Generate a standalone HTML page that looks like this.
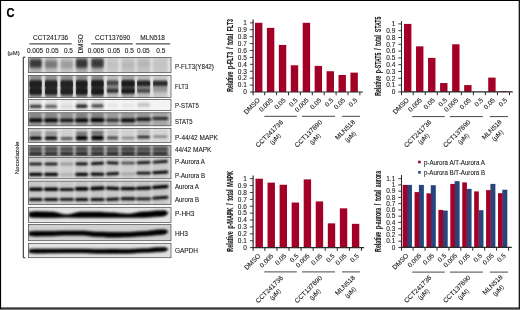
<!DOCTYPE html>
<html lang="en"><head><meta charset="utf-8"><title>Figure C</title>
<style>html,body{margin:0;padding:0;background:#fff;}body{width:520px;height:310px;overflow:hidden;}svg{display:block;}</style>
</head><body>
<svg width="520" height="310" viewBox="0 0 520 310" font-family="'Liberation Sans', sans-serif">
<defs>
<filter id="b05" x="-10%" y="-50%" width="120%" height="200%"><feGaussianBlur stdDeviation="0.5"/></filter>
<filter id="b07" x="-10%" y="-50%" width="120%" height="200%"><feGaussianBlur stdDeviation="0.7"/></filter>
<filter id="b08" x="-10%" y="-50%" width="120%" height="200%"><feGaussianBlur stdDeviation="0.8"/></filter>
<filter id="b09" x="-10%" y="-50%" width="120%" height="200%"><feGaussianBlur stdDeviation="0.9"/></filter>
<filter id="b11" x="-10%" y="-50%" width="120%" height="200%"><feGaussianBlur stdDeviation="1.1"/></filter>
<filter id="b13" x="-10%" y="-50%" width="120%" height="200%"><feGaussianBlur stdDeviation="1.3"/></filter>
<filter id="b15" x="-10%" y="-50%" width="120%" height="200%"><feGaussianBlur stdDeviation="1.5"/></filter>
<filter id="ba" x="-10%" y="-60%" width="120%" height="220%"><feGaussianBlur stdDeviation="0.8 1.7"/></filter>
<filter id="bb" x="-10%" y="-60%" width="120%" height="220%"><feGaussianBlur stdDeviation="0.65 1.2"/></filter>
</defs>
<rect x="0" y="0" width="520" height="310" fill="#fff"/>
<text x="6.5" y="17.1" font-size="12.2" fill="#000" font-weight="bold" textLength="8.0" lengthAdjust="spacingAndGlyphs" stroke="#000" stroke-width="0.25" >C</text>
<text x="50.6" y="39.6" font-size="6.5" fill="#1c1c1c" text-anchor="middle" stroke="#1c1c1c" stroke-width="0.1" >CCT241736</text>
<text x="112.6" y="39.6" font-size="6.5" fill="#1c1c1c" text-anchor="middle" stroke="#1c1c1c" stroke-width="0.1" >CCT137690</text>
<text x="152.6" y="39.6" font-size="6.5" fill="#1c1c1c" text-anchor="middle" stroke="#1c1c1c" stroke-width="0.1" >MLN518</text>
<line x1="29.4" y1="43.9" x2="71.6" y2="43.9" stroke="#505050" stroke-width="1.2"/>
<line x1="91.0" y1="43.9" x2="132.8" y2="43.9" stroke="#505050" stroke-width="1.2"/>
<line x1="135.8" y1="43.9" x2="170.2" y2="43.9" stroke="#505050" stroke-width="1.2"/>
<text x="35.1" y="53.0" font-size="6.5" fill="#1c1c1c" text-anchor="middle" stroke="#1c1c1c" stroke-width="0.1" >0.005</text>
<text x="52.2" y="53.0" font-size="6.5" fill="#1c1c1c" text-anchor="middle" stroke="#1c1c1c" stroke-width="0.1" >0.05</text>
<text x="68.4" y="53.0" font-size="6.5" fill="#1c1c1c" text-anchor="middle" stroke="#1c1c1c" stroke-width="0.1" >0.5</text>
<text x="95.9" y="53.0" font-size="6.5" fill="#1c1c1c" text-anchor="middle" stroke="#1c1c1c" stroke-width="0.1" >0.005</text>
<text x="113.9" y="53.0" font-size="6.5" fill="#1c1c1c" text-anchor="middle" stroke="#1c1c1c" stroke-width="0.1" >0.05</text>
<text x="129.3" y="53.0" font-size="6.5" fill="#1c1c1c" text-anchor="middle" stroke="#1c1c1c" stroke-width="0.1" >0.5</text>
<text x="143.3" y="53.0" font-size="6.5" fill="#1c1c1c" text-anchor="middle" stroke="#1c1c1c" stroke-width="0.1" >0.05</text>
<text x="160.8" y="53.0" font-size="6.5" fill="#1c1c1c" text-anchor="middle" stroke="#1c1c1c" stroke-width="0.1" >0.5</text>
<text x="83.4" y="53.6" font-size="6.5" fill="#1c1c1c" transform="rotate(-90 83.4 53.6)" stroke="#1c1c1c" stroke-width="0.1" >DMSO</text>
<text x="7.4" y="54.9" font-size="6.2" fill="#1c1c1c" textLength="12.3" lengthAdjust="spacingAndGlyphs" stroke="#1c1c1c" stroke-width="0.1" >(µM)</text>
<text x="19.2" y="174.2" font-size="6.2" fill="#1c1c1c" transform="rotate(-90 19.2 174.2)" stroke="#1c1c1c" stroke-width="0.1" >Nocodazole</text>
<path d="M25.4 57.2 H23.3 V257.8 H25.4" fill="none" stroke="#222" stroke-width="1"/>
<clipPath id="c1"><rect x="28.4" y="57.4" width="142.6" height="15.3"/></clipPath>
<rect x="28.4" y="57.4" width="142.6" height="15.3" fill="#e0e0e0"/>
<g clip-path="url(#c1)">
<g filter="url(#b08)">
<rect x="29.4" y="54.4" width="12.4" height="21.3" fill="#b0b0b0"/>
<rect x="44.9" y="54.4" width="12.4" height="21.3" fill="#bcbcbc"/>
<rect x="60.5" y="54.4" width="12.5" height="21.3" fill="#c4c4c4"/>
<rect x="75.9" y="54.4" width="11.6" height="21.3" fill="#acacac"/>
<rect x="91.3" y="54.4" width="12.4" height="21.3" fill="#b0b0b0"/>
<rect x="106.8" y="54.4" width="11.6" height="21.3" fill="#c8c8c8"/>
<rect x="121.5" y="54.4" width="13.2" height="21.3" fill="#c4c4c4"/>
<rect x="137.0" y="54.4" width="13.2" height="21.3" fill="#c2c2c2"/>
<rect x="153.0" y="54.4" width="14.5" height="21.3" fill="#c8c8c8"/>
</g>
<g filter="url(#ba)">
<rect x="29.4" y="59.15" width="12.4" height="8.50" rx="1.60" fill="#000" fill-opacity="0.68"/>
<rect x="44.9" y="60.45" width="12.4" height="7.50" rx="1.60" fill="#000" fill-opacity="0.36"/>
<rect x="60.5" y="60.85" width="12.5" height="7.50" rx="1.60" fill="#000" fill-opacity="0.2"/>
<rect x="75.9" y="58.90" width="11.6" height="9.00" rx="1.60" fill="#000" fill-opacity="0.68"/>
<rect x="91.3" y="58.70" width="12.4" height="9.00" rx="1.60" fill="#000" fill-opacity="0.68"/>
<rect x="106.8" y="62.50" width="11.6" height="5.00" rx="1.60" fill="#000" fill-opacity="0.04"/>
<rect x="121.5" y="62.50" width="13.2" height="5.00" rx="1.60" fill="#000" fill-opacity="0.07"/>
<rect x="137.0" y="61.50" width="13.2" height="5.00" rx="1.60" fill="#000" fill-opacity="0.07"/>
<rect x="153.0" y="62.50" width="14.5" height="5.00" rx="1.60" fill="#000" fill-opacity="0.03"/>
</g>
</g>
<rect x="28.4" y="57.4" width="142.6" height="15.3" fill="none" stroke="#484848" stroke-width="0.7"/>
<clipPath id="c2"><rect x="28.4" y="75.5" width="142.6" height="21.9"/></clipPath>
<rect x="28.4" y="75.5" width="142.6" height="21.9" fill="#eaeaea"/>
<g clip-path="url(#c2)">
<g filter="url(#b08)">
<rect x="29.4" y="72.5" width="12.4" height="27.9" fill="#8e8e8e"/>
<rect x="44.9" y="72.5" width="12.4" height="27.9" fill="#929292"/>
<rect x="60.5" y="72.5" width="12.5" height="27.9" fill="#929292"/>
<rect x="75.9" y="72.5" width="11.6" height="27.9" fill="#8c8c8c"/>
<rect x="91.3" y="72.5" width="12.4" height="27.9" fill="#8c8c8c"/>
<rect x="106.8" y="72.5" width="11.6" height="27.9" fill="#b8b8b8"/>
<rect x="121.5" y="72.5" width="13.2" height="27.9" fill="#a4a4a4"/>
<rect x="137.0" y="72.5" width="13.2" height="27.9" fill="#bababa"/>
<rect x="153.0" y="72.5" width="14.5" height="27.9" fill="#c8c8c8"/>
</g>
<g filter="url(#bb)">
<rect x="29.4" y="80.20" width="12.4" height="7.60" rx="1.60" fill="#000" fill-opacity="0.74"/>
<rect x="44.9" y="80.20" width="12.4" height="7.60" rx="1.60" fill="#000" fill-opacity="0.72"/>
<rect x="60.5" y="80.20" width="12.5" height="7.60" rx="1.60" fill="#000" fill-opacity="0.72"/>
<rect x="75.9" y="80.20" width="11.6" height="7.60" rx="1.60" fill="#000" fill-opacity="0.74"/>
<rect x="91.3" y="80.00" width="12.4" height="7.60" rx="1.60" fill="#000" fill-opacity="0.76"/>
<rect x="106.8" y="80.50" width="11.6" height="4.60" rx="1.60" fill="#000" fill-opacity="0.5"/>
<rect x="121.5" y="80.10" width="13.2" height="6.60" rx="1.60" fill="#000" fill-opacity="0.72"/>
<rect x="137.0" y="80.40" width="13.2" height="5.60" rx="1.60" fill="#000" fill-opacity="0.74"/>
<rect x="153.0" y="80.50" width="14.5" height="5.40" rx="1.60" fill="#000" fill-opacity="0.72"/>
<rect x="29.4" y="87.90" width="12.4" height="7.00" rx="1.60" fill="#000" fill-opacity="0.74"/>
<rect x="44.9" y="87.90" width="12.4" height="7.00" rx="1.60" fill="#000" fill-opacity="0.7"/>
<rect x="60.5" y="87.90" width="12.5" height="7.00" rx="1.60" fill="#000" fill-opacity="0.72"/>
<rect x="75.9" y="87.90" width="11.6" height="7.00" rx="1.60" fill="#000" fill-opacity="0.74"/>
<rect x="91.3" y="87.90" width="12.4" height="7.00" rx="1.60" fill="#000" fill-opacity="0.76"/>
<rect x="106.8" y="88.70" width="11.6" height="4.20" rx="1.60" fill="#000" fill-opacity="0.62"/>
<rect x="121.5" y="88.20" width="13.2" height="5.60" rx="1.60" fill="#000" fill-opacity="0.72"/>
<rect x="137.0" y="89.00" width="13.2" height="4.00" rx="1.60" fill="#000" fill-opacity="0.45"/>
<rect x="153.0" y="89.30" width="14.5" height="3.40" rx="1.60" fill="#000" fill-opacity="0.18"/>
<rect x="29.4" y="80.50" width="12.4" height="14.00" rx="1.60" fill="#000" fill-opacity="0.2"/>
<rect x="44.9" y="80.50" width="12.4" height="14.00" rx="1.60" fill="#000" fill-opacity="0.2"/>
<rect x="60.5" y="80.50" width="12.5" height="14.00" rx="1.60" fill="#000" fill-opacity="0.2"/>
<rect x="75.9" y="80.50" width="11.6" height="14.00" rx="1.60" fill="#000" fill-opacity="0.2"/>
<rect x="91.3" y="80.50" width="12.4" height="14.00" rx="1.60" fill="#000" fill-opacity="0.2"/>
<rect x="106.8" y="80.80" width="11.6" height="12.00" rx="1.60" fill="#000" fill-opacity="0.28"/>
<rect x="121.5" y="80.50" width="13.2" height="13.00" rx="1.60" fill="#000" fill-opacity="0.42"/>
<rect x="137.0" y="80.60" width="13.2" height="12.00" rx="1.60" fill="#000" fill-opacity="0.3"/>
<rect x="153.0" y="81.10" width="14.5" height="9.00" rx="1.60" fill="#000" fill-opacity="0.22"/>
</g>
</g>
<rect x="28.4" y="75.5" width="142.6" height="21.9" fill="none" stroke="#484848" stroke-width="0.7"/>
<clipPath id="c3"><rect x="28.4" y="99.6" width="142.6" height="10.8"/></clipPath>
<rect x="28.4" y="99.6" width="142.6" height="10.8" fill="#f6f6f6"/>
<g clip-path="url(#c3)">
<g filter="url(#b11)">
<rect x="29.4" y="96.6" width="12.4" height="16.8" fill="#dcdcdc"/>
<rect x="44.9" y="96.6" width="12.4" height="16.8" fill="#e0e0e0"/>
<rect x="60.5" y="96.6" width="12.5" height="16.8" fill="#eaeaea"/>
<rect x="75.9" y="96.6" width="11.6" height="16.8" fill="#dadada"/>
<rect x="91.3" y="96.6" width="12.4" height="16.8" fill="#dedede"/>
<rect x="106.8" y="96.6" width="11.6" height="16.8" fill="#f2f2f2"/>
<rect x="121.5" y="96.6" width="13.2" height="16.8" fill="#f2f2f2"/>
<rect x="137.0" y="96.6" width="13.2" height="16.8" fill="#eeeeee"/>
<rect x="153.0" y="96.6" width="14.5" height="16.8" fill="#f5f5f5"/>
</g>
<g filter="url(#b09)">
<rect x="29.4" y="104.80" width="12.4" height="3.20" rx="1.60" fill="#000" fill-opacity="0.74"/>
<rect x="44.9" y="104.80" width="12.4" height="3.20" rx="1.60" fill="#000" fill-opacity="0.58"/>
<rect x="60.5" y="104.80" width="12.5" height="3.20" rx="1.60" fill="#000" fill-opacity="0.08"/>
<rect x="75.9" y="104.60" width="11.6" height="3.20" rx="1.60" fill="#000" fill-opacity="0.9"/>
<rect x="91.3" y="104.30" width="12.4" height="3.20" rx="1.60" fill="#000" fill-opacity="0.7"/>
<rect x="106.8" y="103.90" width="11.6" height="3.20" rx="1.60" fill="#000" fill-opacity="0.06"/>
<rect x="121.5" y="103.90" width="13.2" height="3.20" rx="1.60" fill="#000" fill-opacity="0.05"/>
<rect x="137.0" y="103.20" width="13.2" height="3.20" rx="1.60" fill="#000" fill-opacity="0.2"/>
<rect x="153.0" y="103.40" width="14.5" height="3.20" rx="1.60" fill="#000" fill-opacity="0.02"/>
</g>
</g>
<rect x="28.4" y="99.6" width="142.6" height="10.8" fill="none" stroke="#484848" stroke-width="0.7"/>
<clipPath id="c4"><rect x="28.4" y="112.8" width="142.6" height="13.0"/></clipPath>
<rect x="28.4" y="112.8" width="142.6" height="13.0" fill="#c4c4c4"/>
<g clip-path="url(#c4)">
<g filter="url(#b09)">
<rect x="29.4" y="109.8" width="12.4" height="19.0" fill="#969696"/>
<rect x="44.9" y="109.8" width="12.4" height="19.0" fill="#969696"/>
<rect x="60.5" y="109.8" width="12.5" height="19.0" fill="#9c9c9c"/>
<rect x="75.9" y="109.8" width="11.6" height="19.0" fill="#949494"/>
<rect x="91.3" y="109.8" width="12.4" height="19.0" fill="#949494"/>
<rect x="106.8" y="109.8" width="11.6" height="19.0" fill="#a2a2a2"/>
<rect x="121.5" y="109.8" width="13.2" height="19.0" fill="#9e9e9e"/>
<rect x="137.0" y="109.8" width="13.2" height="19.0" fill="#a0a0a0"/>
<rect x="153.0" y="109.8" width="14.5" height="19.0" fill="#a8a8a8"/>
</g>
<g filter="url(#b09)">
<rect x="29.4" y="114.50" width="12.4" height="1.80" rx="0.90" fill="#000" fill-opacity="0.2"/>
<rect x="44.9" y="114.50" width="12.4" height="1.80" rx="0.90" fill="#000" fill-opacity="0.2"/>
<rect x="60.5" y="114.50" width="12.5" height="1.80" rx="0.90" fill="#000" fill-opacity="0.15"/>
<rect x="75.9" y="114.50" width="11.6" height="1.80" rx="0.90" fill="#000" fill-opacity="0.25"/>
<rect x="91.3" y="114.50" width="12.4" height="1.80" rx="0.90" fill="#000" fill-opacity="0.25"/>
<rect x="106.8" y="114.50" width="11.6" height="1.80" rx="0.90" fill="#000" fill-opacity="0.08"/>
<rect x="121.5" y="114.50" width="13.2" height="1.80" rx="0.90" fill="#000" fill-opacity="0.08"/>
<rect x="137.0" y="114.50" width="13.2" height="1.80" rx="0.90" fill="#000" fill-opacity="0.08"/>
<rect x="153.0" y="114.50" width="14.5" height="1.80" rx="0.90" fill="#000" fill-opacity="0.04"/>
<rect x="28.9" y="118.25" width="13.7" height="3.90" rx="1.60" fill="#000" fill-opacity="0.93"/>
<rect x="44.1" y="118.25" width="14.0" height="3.90" rx="1.60" fill="#000" fill-opacity="0.93"/>
<rect x="59.7" y="118.55" width="14.1" height="3.50" rx="1.60" fill="#000" fill-opacity="0.88"/>
<rect x="75.1" y="118.15" width="13.2" height="4.10" rx="1.60" fill="#000" fill-opacity="0.95"/>
<rect x="90.5" y="117.95" width="14.0" height="4.10" rx="1.60" fill="#000" fill-opacity="0.96"/>
<rect x="106.0" y="118.60" width="13.2" height="3.20" rx="1.60" fill="#000" fill-opacity="0.76"/>
<rect x="120.7" y="118.25" width="14.8" height="3.90" rx="1.60" fill="#000" fill-opacity="0.9"/>
<rect x="136.2" y="117.55" width="14.8" height="3.50" rx="1.60" fill="#000" fill-opacity="0.88"/>
<rect x="152.2" y="117.10" width="16.1" height="3.00" rx="1.50" fill="#000" fill-opacity="0.78"/>
</g>
</g>
<rect x="28.4" y="112.8" width="142.6" height="13.0" fill="none" stroke="#484848" stroke-width="0.7"/>
<clipPath id="c5"><rect x="28.4" y="128.4" width="142.6" height="14.1"/></clipPath>
<rect x="28.4" y="128.4" width="142.6" height="14.1" fill="#e2e2e2"/>
<g clip-path="url(#c5)">
<g filter="url(#b09)">
<rect x="29.4" y="125.4" width="12.4" height="20.1" fill="#c8c8c8"/>
<rect x="44.9" y="125.4" width="12.4" height="20.1" fill="#c8c8c8"/>
<rect x="60.5" y="125.4" width="12.5" height="20.1" fill="#d4d4d4"/>
<rect x="75.9" y="125.4" width="11.6" height="20.1" fill="#c2c2c2"/>
<rect x="91.3" y="125.4" width="12.4" height="20.1" fill="#c2c2c2"/>
<rect x="106.8" y="125.4" width="11.6" height="20.1" fill="#d2d2d2"/>
<rect x="121.5" y="125.4" width="13.2" height="20.1" fill="#d6d6d6"/>
<rect x="137.0" y="125.4" width="13.2" height="20.1" fill="#d0d0d0"/>
<rect x="153.0" y="125.4" width="14.5" height="20.1" fill="#d8d8d8"/>
</g>
<g filter="url(#b08)">
<rect x="29.4" y="132.25" width="12.4" height="1.90" rx="0.95" fill="#000" fill-opacity="0.4"/>
<rect x="44.9" y="132.25" width="12.4" height="1.90" rx="0.95" fill="#000" fill-opacity="0.42"/>
<rect x="60.5" y="132.25" width="12.5" height="1.90" rx="0.95" fill="#000" fill-opacity="0.05"/>
<rect x="75.9" y="132.25" width="11.6" height="1.90" rx="0.95" fill="#000" fill-opacity="0.6"/>
<rect x="91.3" y="131.85" width="12.4" height="1.90" rx="0.95" fill="#000" fill-opacity="0.68"/>
<rect x="106.8" y="131.65" width="11.6" height="1.90" rx="0.95" fill="#000" fill-opacity="0.14"/>
<rect x="121.5" y="131.05" width="13.2" height="1.90" rx="0.95" fill="#000" fill-opacity="0.05"/>
<rect x="137.0" y="131.05" width="13.2" height="1.90" rx="0.95" fill="#000" fill-opacity="0.2"/>
<rect x="153.0" y="131.05" width="14.5" height="1.90" rx="0.95" fill="#000" fill-opacity="0.03"/>
<rect x="29.4" y="136.30" width="12.4" height="3.80" rx="1.60" fill="#000" fill-opacity="0.92"/>
<rect x="44.9" y="136.30" width="12.4" height="3.80" rx="1.60" fill="#000" fill-opacity="0.92"/>
<rect x="60.5" y="137.10" width="12.5" height="2.80" rx="1.40" fill="#000" fill-opacity="0.6"/>
<rect x="75.9" y="135.70" width="11.6" height="4.60" rx="1.60" fill="#000" fill-opacity="0.97"/>
<rect x="91.3" y="135.40" width="12.4" height="4.80" rx="1.60" fill="#000" fill-opacity="0.97"/>
<rect x="106.8" y="136.30" width="11.6" height="3.20" rx="1.60" fill="#000" fill-opacity="0.65"/>
<rect x="121.5" y="136.70" width="13.2" height="2.60" rx="1.30" fill="#000" fill-opacity="0.4"/>
<rect x="137.0" y="135.40" width="13.2" height="3.20" rx="1.60" fill="#000" fill-opacity="0.8"/>
<rect x="153.0" y="135.50" width="14.5" height="2.20" rx="1.10" fill="#000" fill-opacity="0.45"/>
</g>
</g>
<rect x="28.4" y="128.4" width="142.6" height="14.1" fill="none" stroke="#484848" stroke-width="0.7"/>
<clipPath id="c6"><rect x="28.4" y="145.4" width="142.6" height="10.6"/></clipPath>
<rect x="28.4" y="145.4" width="142.6" height="10.6" fill="#bababa"/>
<g clip-path="url(#c6)">
<g filter="url(#b08)">
<rect x="29.4" y="142.4" width="12.4" height="16.6" fill="#7e7e7e"/>
<rect x="44.9" y="142.4" width="12.4" height="16.6" fill="#7e7e7e"/>
<rect x="60.5" y="142.4" width="12.5" height="16.6" fill="#848484"/>
<rect x="75.9" y="142.4" width="11.6" height="16.6" fill="#7a7a7a"/>
<rect x="91.3" y="142.4" width="12.4" height="16.6" fill="#7a7a7a"/>
<rect x="106.8" y="142.4" width="11.6" height="16.6" fill="#7e7e7e"/>
<rect x="121.5" y="142.4" width="13.2" height="16.6" fill="#7a7a7a"/>
<rect x="137.0" y="142.4" width="13.2" height="16.6" fill="#7e7e7e"/>
<rect x="153.0" y="142.4" width="14.5" height="16.6" fill="#808080"/>
</g>
<g filter="url(#b08)">
<rect x="28.9" y="148.20" width="13.4" height="2.00" rx="1.00" fill="#000" fill-opacity="0.58"/>
<rect x="44.4" y="148.20" width="13.4" height="2.00" rx="1.00" fill="#000" fill-opacity="0.62"/>
<rect x="60.0" y="148.20" width="13.5" height="2.00" rx="1.00" fill="#000" fill-opacity="0.62"/>
<rect x="75.4" y="148.20" width="12.6" height="2.00" rx="1.00" fill="#000" fill-opacity="0.66"/>
<rect x="90.8" y="148.20" width="13.4" height="2.00" rx="1.00" fill="#000" fill-opacity="0.66"/>
<rect x="106.3" y="148.20" width="12.6" height="2.00" rx="1.00" fill="#000" fill-opacity="0.58"/>
<rect x="121.0" y="148.20" width="14.2" height="2.00" rx="1.00" fill="#000" fill-opacity="0.68"/>
<rect x="136.5" y="148.20" width="14.2" height="2.00" rx="1.00" fill="#000" fill-opacity="0.58"/>
<rect x="152.5" y="148.20" width="15.5" height="2.00" rx="1.00" fill="#000" fill-opacity="0.62"/>
<rect x="28.9" y="152.25" width="13.4" height="2.70" rx="1.35" fill="#000" fill-opacity="0.76"/>
<rect x="44.4" y="152.25" width="13.4" height="2.70" rx="1.35" fill="#000" fill-opacity="0.72"/>
<rect x="60.0" y="152.25" width="13.5" height="2.70" rx="1.35" fill="#000" fill-opacity="0.76"/>
<rect x="75.4" y="152.25" width="12.6" height="2.70" rx="1.35" fill="#000" fill-opacity="0.76"/>
<rect x="90.8" y="152.25" width="13.4" height="2.70" rx="1.35" fill="#000" fill-opacity="0.72"/>
<rect x="106.3" y="152.25" width="12.6" height="2.70" rx="1.35" fill="#000" fill-opacity="0.76"/>
<rect x="121.0" y="152.25" width="14.2" height="2.70" rx="1.35" fill="#000" fill-opacity="0.76"/>
<rect x="136.5" y="152.25" width="14.2" height="2.70" rx="1.35" fill="#000" fill-opacity="0.72"/>
<rect x="152.5" y="152.25" width="15.5" height="2.70" rx="1.35" fill="#000" fill-opacity="0.72"/>
</g>
</g>
<rect x="28.4" y="145.4" width="142.6" height="10.6" fill="none" stroke="#484848" stroke-width="0.7"/>
<clipPath id="c7"><rect x="28.4" y="157.5" width="142.6" height="21.3"/></clipPath>
<rect x="28.4" y="157.5" width="142.6" height="21.3" fill="#d8d8d8"/>
<g clip-path="url(#c7)">
<g filter="url(#b11)">
<rect x="29.4" y="154.5" width="12.4" height="27.3" fill="#c8c8c8"/>
<rect x="44.9" y="154.5" width="12.4" height="27.3" fill="#c8c8c8"/>
<rect x="60.5" y="154.5" width="12.5" height="27.3" fill="#d0d0d0"/>
<rect x="75.9" y="154.5" width="11.6" height="27.3" fill="#c6c6c6"/>
<rect x="91.3" y="154.5" width="12.4" height="27.3" fill="#c6c6c6"/>
<rect x="106.8" y="154.5" width="11.6" height="27.3" fill="#c8c8c8"/>
<rect x="121.5" y="154.5" width="13.2" height="27.3" fill="#cccccc"/>
<rect x="137.0" y="154.5" width="13.2" height="27.3" fill="#c8c8c8"/>
<rect x="153.0" y="154.5" width="14.5" height="27.3" fill="#c8c8c8"/>
</g>
<g filter="url(#b08)">
<rect x="29.0" y="162.65" width="13.2" height="2.70" rx="1.35" fill="#000" fill-opacity="0.97"/>
<rect x="44.5" y="162.65" width="13.2" height="2.70" rx="1.35" fill="#000" fill-opacity="0.97"/>
<rect x="60.1" y="162.65" width="13.3" height="2.70" rx="1.35" fill="#000" fill-opacity="0.3"/>
<rect x="75.5" y="162.45" width="12.4" height="2.70" rx="1.35" fill="#000" fill-opacity="1"/>
<rect x="90.9" y="162.05" width="13.2" height="2.70" rx="1.35" fill="#000" fill-opacity="1" transform="rotate(-3 97.5 163.4)"/>
<rect x="106.4" y="161.55" width="12.4" height="2.70" rx="1.35" fill="#000" fill-opacity="0.98" transform="rotate(2 112.6 162.9)"/>
<rect x="121.1" y="161.65" width="14.0" height="2.70" rx="1.35" fill="#000" fill-opacity="0.68"/>
<rect x="136.6" y="161.25" width="14.0" height="2.70" rx="1.35" fill="#000" fill-opacity="0.94" transform="rotate(-2 143.6 162.6)"/>
<rect x="152.6" y="160.45" width="15.3" height="2.70" rx="1.35" fill="#000" fill-opacity="0.97" transform="rotate(-4 160.2 161.8)"/>
<rect x="28.9" y="172.85" width="13.7" height="3.10" rx="1.55" fill="#000" fill-opacity="1"/>
<rect x="44.1" y="172.85" width="14.0" height="3.10" rx="1.55" fill="#000" fill-opacity="1"/>
<rect x="59.7" y="173.30" width="14.1" height="2.60" rx="1.30" fill="#000" fill-opacity="0.16"/>
<rect x="75.1" y="172.65" width="13.2" height="3.30" rx="1.60" fill="#000" fill-opacity="1"/>
<rect x="90.5" y="172.65" width="14.0" height="3.10" rx="1.55" fill="#000" fill-opacity="1" transform="rotate(1 97.5 174.2)"/>
<rect x="106.0" y="172.35" width="13.2" height="2.90" rx="1.45" fill="#000" fill-opacity="0.95" transform="rotate(-3 112.6 173.8)"/>
<rect x="120.7" y="172.80" width="14.8" height="2.40" rx="1.20" fill="#000" fill-opacity="0.22"/>
<rect x="136.2" y="171.65" width="14.8" height="2.90" rx="1.45" fill="#000" fill-opacity="0.95"/>
<rect x="152.2" y="170.85" width="16.1" height="3.10" rx="1.55" fill="#000" fill-opacity="1" transform="rotate(-3 160.2 172.4)"/>
</g>
</g>
<rect x="28.4" y="157.5" width="142.6" height="21.3" fill="none" stroke="#484848" stroke-width="0.7"/>
<clipPath id="c8"><rect x="28.4" y="181.1" width="142.6" height="23.3"/></clipPath>
<rect x="28.4" y="181.1" width="142.6" height="23.3" fill="#d4d4d4"/>
<g clip-path="url(#c8)">
<g filter="url(#b11)">
<rect x="29.4" y="178.1" width="12.4" height="29.3" fill="#c6c6c6"/>
<rect x="44.9" y="178.1" width="12.4" height="29.3" fill="#c6c6c6"/>
<rect x="60.5" y="178.1" width="12.5" height="29.3" fill="#c8c8c8"/>
<rect x="75.9" y="178.1" width="11.6" height="29.3" fill="#c4c4c4"/>
<rect x="91.3" y="178.1" width="12.4" height="29.3" fill="#c4c4c4"/>
<rect x="106.8" y="178.1" width="11.6" height="29.3" fill="#c6c6c6"/>
<rect x="121.5" y="178.1" width="13.2" height="29.3" fill="#c6c6c6"/>
<rect x="137.0" y="178.1" width="13.2" height="29.3" fill="#c6c6c6"/>
<rect x="153.0" y="178.1" width="14.5" height="29.3" fill="#c6c6c6"/>
</g>
<g filter="url(#b08)">
<rect x="28.9" y="187.45" width="13.9" height="3.50" rx="1.60" fill="#000" fill-opacity="1"/>
<rect x="43.9" y="187.45" width="14.4" height="3.50" rx="1.60" fill="#000" fill-opacity="1"/>
<rect x="59.5" y="187.90" width="14.5" height="3.00" rx="1.50" fill="#000" fill-opacity="0.95"/>
<rect x="74.9" y="186.95" width="13.6" height="3.70" rx="1.60" fill="#000" fill-opacity="1"/>
<rect x="90.3" y="186.55" width="14.4" height="3.70" rx="1.60" fill="#000" fill-opacity="1" transform="rotate(-2 97.5 188.4)"/>
<rect x="105.8" y="186.70" width="13.6" height="3.40" rx="1.60" fill="#000" fill-opacity="1" transform="rotate(3 112.6 188.4)"/>
<rect x="120.5" y="186.90" width="15.2" height="3.40" rx="1.60" fill="#000" fill-opacity="1"/>
<rect x="136.0" y="186.50" width="15.2" height="3.40" rx="1.60" fill="#000" fill-opacity="1" transform="rotate(-2 143.6 188.2)"/>
<rect x="152.0" y="185.20" width="16.5" height="3.60" rx="1.60" fill="#000" fill-opacity="1" transform="rotate(-4 160.2 187.0)"/>
<rect x="28.9" y="198.10" width="13.8" height="3.00" rx="1.50" fill="#000" fill-opacity="0.95"/>
<rect x="44.0" y="198.00" width="14.2" height="3.00" rx="1.50" fill="#000" fill-opacity="0.95"/>
<rect x="59.6" y="198.00" width="14.3" height="2.80" rx="1.40" fill="#000" fill-opacity="0.95"/>
<rect x="75.0" y="197.90" width="13.4" height="3.20" rx="1.60" fill="#000" fill-opacity="0.97"/>
<rect x="90.4" y="198.00" width="14.2" height="3.00" rx="1.50" fill="#000" fill-opacity="0.95"/>
<rect x="105.9" y="197.70" width="13.4" height="3.00" rx="1.50" fill="#000" fill-opacity="0.95" transform="rotate(-2 112.6 199.2)"/>
<rect x="120.6" y="197.30" width="15.0" height="3.00" rx="1.50" fill="#000" fill-opacity="0.97"/>
<rect x="136.1" y="197.40" width="15.0" height="2.80" rx="1.40" fill="#000" fill-opacity="0.92"/>
<rect x="152.1" y="196.30" width="16.3" height="3.00" rx="1.50" fill="#000" fill-opacity="0.95" transform="rotate(-4 160.2 197.8)"/>
</g>
</g>
<rect x="28.4" y="181.1" width="142.6" height="23.3" fill="none" stroke="#484848" stroke-width="0.7"/>
<clipPath id="c9"><rect x="28.4" y="207.3" width="142.6" height="15.2"/></clipPath>
<rect x="28.4" y="207.3" width="142.6" height="15.2" fill="#e4e4e4"/>
<g clip-path="url(#c9)">
<g filter="url(#b09)">
<path d="M29.1 212.20 L29.9 212.18 L30.7 212.11 L31.5 212.01 L32.3 211.90 L33.2 211.79 L34.0 211.69 L34.8 211.62 L35.6 211.60 L37.5 211.61 L39.5 211.64 L41.4 211.69 L43.3 211.75 L45.3 211.81 L47.2 211.86 L49.2 211.89 L51.1 211.90 L53.1 212.01 L55.0 212.31 L57.0 212.76 L58.9 213.30 L60.9 213.84 L62.8 214.29 L64.8 214.59 L66.8 214.70 L68.6 214.60 L70.5 214.30 L72.4 213.87 L74.2 213.35 L76.1 212.83 L78.0 212.40 L79.8 212.10 L81.7 212.00 L83.7 212.00 L85.7 212.00 L87.6 212.00 L89.6 212.00 L91.6 212.00 L93.5 212.00 L95.5 212.00 L97.5 212.00 L99.4 212.03 L101.3 212.12 L103.2 212.25 L105.0 212.40 L106.9 212.55 L108.8 212.68 L110.7 212.77 L112.6 212.80 L114.5 212.85 L116.5 212.98 L118.4 213.17 L120.3 213.40 L122.3 213.63 L124.2 213.82 L126.2 213.95 L128.1 214.00 L130.0 213.92 L132.0 213.68 L133.9 213.32 L135.8 212.90 L137.8 212.48 L139.7 212.12 L141.7 211.88 L143.6 211.80 L145.7 211.76 L147.8 211.64 L149.8 211.46 L151.9 211.25 L154.0 211.04 L156.1 210.86 L158.2 210.74 L160.2 210.70 L160.8 210.70 L161.3 210.68 L161.8 210.66 L162.4 210.64 L162.9 210.61 L163.4 210.59 L164.0 210.58 L164.5 210.57 L164.9 210.63 L165.3 210.78 L165.7 211.01 L166.1 211.28 L166.5 211.55 L166.9 211.78 L167.3 211.93 L167.7 211.99 L167.7 214.01 L167.3 214.09 L166.9 214.29 L166.5 214.60 L166.1 214.96 L165.7 215.32 L165.3 215.63 L164.9 215.84 L164.5 215.91 L164.0 215.93 L163.4 215.99 L162.9 216.09 L162.4 216.20 L161.8 216.32 L161.3 216.41 L160.8 216.48 L160.2 216.50 L158.2 216.53 L156.1 216.63 L154.0 216.78 L151.9 216.95 L149.8 217.12 L147.8 217.27 L145.7 217.37 L143.6 217.40 L141.7 217.41 L139.7 217.43 L137.8 217.46 L135.8 217.50 L133.9 217.54 L132.0 217.57 L130.0 217.59 L128.1 217.60 L126.2 217.60 L124.2 217.60 L122.3 217.60 L120.3 217.60 L118.4 217.60 L116.5 217.60 L114.5 217.60 L112.6 217.60 L110.7 217.60 L108.8 217.60 L106.9 217.60 L105.0 217.60 L103.2 217.60 L101.3 217.60 L99.4 217.60 L97.5 217.60 L95.5 217.60 L93.5 217.60 L91.6 217.60 L89.6 217.60 L87.6 217.60 L85.7 217.60 L83.7 217.60 L81.7 217.60 L79.8 217.59 L78.0 217.56 L76.1 217.51 L74.2 217.45 L72.4 217.39 L70.5 217.34 L68.6 217.31 L66.8 217.30 L64.8 217.32 L62.8 217.36 L60.9 217.42 L58.9 217.50 L57.0 217.58 L55.0 217.64 L53.1 217.68 L51.1 217.70 L49.2 217.70 L47.2 217.69 L45.3 217.67 L43.3 217.65 L41.4 217.63 L39.5 217.61 L37.5 217.60 L35.6 217.60 L34.8 217.58 L34.0 217.51 L33.2 217.41 L32.3 217.30 L31.5 217.19 L30.7 217.09 L29.9 217.02 L29.1 217.00Z" fill="#000" fill-opacity="1" stroke="#000" stroke-width="0.6" stroke-linejoin="round"/>
</g>
</g>
<rect x="28.4" y="207.3" width="142.6" height="15.2" fill="none" stroke="#484848" stroke-width="0.7"/>
<clipPath id="c10"><rect x="28.4" y="224.4" width="142.6" height="16.3"/></clipPath>
<rect x="28.4" y="224.4" width="142.6" height="16.3" fill="#d0d0d0"/>
<g clip-path="url(#c10)">
<g filter="url(#b09)">
<path d="M29.1 231.74 L29.9 231.72 L30.7 231.67 L31.5 231.59 L32.3 231.49 L33.2 231.40 L34.0 231.32 L34.8 231.27 L35.6 231.25 L37.5 231.25 L39.5 231.25 L41.4 231.25 L43.3 231.25 L45.3 231.25 L47.2 231.25 L49.2 231.25 L51.1 231.25 L53.1 231.24 L55.0 231.21 L57.0 231.16 L58.9 231.10 L60.9 231.04 L62.8 230.99 L64.8 230.96 L66.8 230.95 L68.6 230.95 L70.5 230.95 L72.4 230.95 L74.2 230.95 L76.1 230.95 L78.0 230.95 L79.8 230.95 L81.7 230.95 L83.7 230.99 L85.7 231.10 L87.6 231.26 L89.6 231.45 L91.6 231.64 L93.5 231.80 L95.5 231.91 L97.5 231.95 L99.4 231.96 L101.3 231.99 L103.2 232.04 L105.0 232.10 L106.9 232.16 L108.8 232.21 L110.7 232.24 L112.6 232.25 L114.5 232.25 L116.5 232.25 L118.4 232.25 L120.3 232.25 L122.3 232.25 L124.2 232.25 L126.2 232.25 L128.1 232.25 L130.0 232.22 L132.0 232.12 L133.9 231.97 L135.8 231.80 L137.8 231.63 L139.7 231.48 L141.7 231.38 L143.6 231.35 L145.7 231.29 L147.8 231.12 L149.8 230.86 L151.9 230.55 L154.0 230.24 L156.1 229.98 L158.2 229.81 L160.2 229.75 L160.8 229.74 L161.3 229.73 L161.8 229.70 L162.4 229.67 L162.9 229.64 L163.4 229.62 L164.0 229.60 L164.5 229.59 L164.9 229.64 L165.3 229.77 L165.7 229.97 L166.1 230.20 L166.5 230.43 L166.9 230.63 L167.3 230.76 L167.7 230.81 L167.7 232.59 L167.3 232.66 L166.9 232.84 L166.5 233.12 L166.1 233.44 L165.7 233.76 L165.3 234.04 L164.9 234.22 L164.5 234.29 L164.0 234.31 L163.4 234.37 L162.9 234.46 L162.4 234.57 L161.8 234.68 L161.3 234.77 L160.8 234.83 L160.2 234.85 L158.2 234.90 L156.1 235.03 L154.0 235.22 L151.9 235.45 L149.8 235.68 L147.8 235.87 L145.7 236.00 L143.6 236.05 L141.7 236.08 L139.7 236.18 L137.8 236.33 L135.8 236.50 L133.9 236.67 L132.0 236.82 L130.0 236.92 L128.1 236.95 L126.2 236.97 L124.2 237.01 L122.3 237.07 L120.3 237.15 L118.4 237.23 L116.5 237.29 L114.5 237.33 L112.6 237.35 L110.7 237.32 L108.8 237.25 L106.9 237.13 L105.0 237.00 L103.2 236.87 L101.3 236.75 L99.4 236.68 L97.5 236.65 L95.5 236.60 L93.5 236.44 L91.6 236.22 L89.6 235.95 L87.6 235.68 L85.7 235.46 L83.7 235.30 L81.7 235.25 L79.8 235.25 L78.0 235.25 L76.1 235.25 L74.2 235.25 L72.4 235.25 L70.5 235.25 L68.6 235.25 L66.8 235.25 L64.8 235.28 L62.8 235.35 L60.9 235.47 L58.9 235.60 L57.0 235.73 L55.0 235.85 L53.1 235.92 L51.1 235.95 L49.2 235.96 L47.2 235.98 L45.3 236.01 L43.3 236.05 L41.4 236.09 L39.5 236.12 L37.5 236.14 L35.6 236.15 L34.8 236.13 L34.0 236.08 L33.2 236.00 L32.3 235.91 L31.5 235.81 L30.7 235.73 L29.9 235.68 L29.1 235.66Z" fill="#000" fill-opacity="1" stroke="#000" stroke-width="0.6" stroke-linejoin="round"/>
</g>
</g>
<rect x="28.4" y="224.4" width="142.6" height="16.3" fill="none" stroke="#484848" stroke-width="0.7"/>
<clipPath id="c11"><rect x="28.4" y="243.3" width="142.6" height="14.4"/></clipPath>
<rect x="28.4" y="243.3" width="142.6" height="14.4" fill="#e2e2e2"/>
<g clip-path="url(#c11)">
<g filter="url(#b08)">
<path d="M29.1 249.42 L29.9 249.40 L30.7 249.36 L31.5 249.29 L32.3 249.21 L33.2 249.13 L34.0 249.06 L34.8 249.02 L35.6 249.00 L37.5 249.00 L39.5 249.01 L41.4 249.03 L43.3 249.05 L45.3 249.07 L47.2 249.09 L49.2 249.10 L51.1 249.10 L53.1 249.09 L55.0 249.07 L57.0 249.04 L58.9 249.00 L60.9 248.96 L62.8 248.93 L64.8 248.91 L66.8 248.90 L68.6 248.90 L70.5 248.90 L72.4 248.90 L74.2 248.90 L76.1 248.90 L78.0 248.90 L79.8 248.90 L81.7 248.90 L83.7 248.91 L85.7 248.94 L87.6 248.99 L89.6 249.05 L91.6 249.11 L93.5 249.16 L95.5 249.19 L97.5 249.20 L99.4 249.20 L101.3 249.19 L103.2 249.17 L105.0 249.15 L106.9 249.13 L108.8 249.11 L110.7 249.10 L112.6 249.10 L114.5 249.10 L116.5 249.11 L118.4 249.13 L120.3 249.15 L122.3 249.17 L124.2 249.19 L126.2 249.20 L128.1 249.20 L130.0 249.18 L132.0 249.11 L133.9 249.01 L135.8 248.90 L137.8 248.79 L139.7 248.69 L141.7 248.62 L143.6 248.60 L145.7 248.55 L147.8 248.42 L149.8 248.23 L151.9 248.00 L154.0 247.77 L156.1 247.58 L158.2 247.45 L160.2 247.40 L160.8 247.40 L161.3 247.39 L161.8 247.38 L162.4 247.37 L162.9 247.36 L163.4 247.35 L164.0 247.34 L164.5 247.34 L164.9 247.38 L165.3 247.50 L165.7 247.67 L166.1 247.88 L166.5 248.09 L166.9 248.27 L167.3 248.39 L167.7 248.43 L167.7 249.97 L167.3 250.02 L166.9 250.18 L166.5 250.41 L166.1 250.68 L165.7 250.95 L165.3 251.18 L164.9 251.33 L164.5 251.38 L164.0 251.40 L163.4 251.44 L162.9 251.51 L162.4 251.59 L161.8 251.67 L161.3 251.74 L160.8 251.78 L160.2 251.80 L158.2 251.83 L156.1 251.92 L154.0 252.05 L151.9 252.20 L149.8 252.35 L147.8 252.48 L145.7 252.57 L143.6 252.60 L141.7 252.63 L139.7 252.72 L137.8 252.85 L135.8 253.00 L133.9 253.15 L132.0 253.28 L130.0 253.37 L128.1 253.40 L126.2 253.40 L124.2 253.41 L122.3 253.43 L120.3 253.45 L118.4 253.47 L116.5 253.49 L114.5 253.50 L112.6 253.50 L110.7 253.50 L108.8 253.49 L106.9 253.47 L105.0 253.45 L103.2 253.43 L101.3 253.41 L99.4 253.40 L97.5 253.40 L95.5 253.38 L93.5 253.33 L91.6 253.25 L89.6 253.15 L87.6 253.05 L85.7 252.97 L83.7 252.92 L81.7 252.90 L79.8 252.90 L78.0 252.90 L76.1 252.90 L74.2 252.90 L72.4 252.90 L70.5 252.90 L68.6 252.90 L66.8 252.90 L64.8 252.91 L62.8 252.93 L60.9 252.96 L58.9 253.00 L57.0 253.04 L55.0 253.07 L53.1 253.09 L51.1 253.10 L49.2 253.10 L47.2 253.11 L45.3 253.13 L43.3 253.15 L41.4 253.17 L39.5 253.19 L37.5 253.20 L35.6 253.20 L34.8 253.18 L34.0 253.14 L33.2 253.07 L32.3 252.99 L31.5 252.91 L30.7 252.84 L29.9 252.80 L29.1 252.78Z" fill="#000" fill-opacity="1" stroke="#000" stroke-width="0.6" stroke-linejoin="round"/>
</g>
</g>
<rect x="28.4" y="243.3" width="142.6" height="14.4" fill="none" stroke="#484848" stroke-width="0.7"/>
<text x="174.9" y="69.25" font-size="6.5" fill="#1c1c1c" textLength="39.0" lengthAdjust="spacingAndGlyphs" stroke="#1c1c1c" stroke-width="0.1" >P-FLT3(Y842)</text>
<text x="174.9" y="89.05" font-size="6.5" fill="#1c1c1c" textLength="13.4" lengthAdjust="spacingAndGlyphs" stroke="#1c1c1c" stroke-width="0.1" >FLT3</text>
<text x="174.9" y="108.45" font-size="6.5" fill="#1c1c1c" textLength="23.9" lengthAdjust="spacingAndGlyphs" stroke="#1c1c1c" stroke-width="0.1" >P-STAT5</text>
<text x="174.9" y="123.55" font-size="6.5" fill="#1c1c1c" textLength="17.7" lengthAdjust="spacingAndGlyphs" stroke="#1c1c1c" stroke-width="0.1" >STAT5</text>
<text x="174.9" y="139.65" font-size="6.5" fill="#1c1c1c" stroke="#1c1c1c" stroke-width="0.1" >P-44/42 MAPK</text>
<text x="174.9" y="152.25" font-size="6.5" fill="#1c1c1c" textLength="36.5" lengthAdjust="spacingAndGlyphs" stroke="#1c1c1c" stroke-width="0.1" >44/42 MAPK</text>
<text x="174.9" y="164.35" font-size="6.5" fill="#1c1c1c" textLength="29.9" lengthAdjust="spacingAndGlyphs" stroke="#1c1c1c" stroke-width="0.1" >P-Aurora A</text>
<text x="174.9" y="177.55" font-size="6.5" fill="#1c1c1c" textLength="30.1" lengthAdjust="spacingAndGlyphs" stroke="#1c1c1c" stroke-width="0.1" >P-Aurora B</text>
<text x="174.9" y="188.55" font-size="6.5" fill="#1c1c1c" textLength="23.9" lengthAdjust="spacingAndGlyphs" stroke="#1c1c1c" stroke-width="0.1" >Aurora A</text>
<text x="174.9" y="201.85" font-size="6.5" fill="#1c1c1c" textLength="24.1" lengthAdjust="spacingAndGlyphs" stroke="#1c1c1c" stroke-width="0.1" >Aurora B</text>
<text x="174.9" y="216.45" font-size="6.5" fill="#1c1c1c" stroke="#1c1c1c" stroke-width="0.1" >P-HH3</text>
<text x="174.9" y="235.55" font-size="6.5" fill="#1c1c1c" stroke="#1c1c1c" stroke-width="0.1" >HH3</text>
<text x="174.9" y="252.65" font-size="6.5" fill="#1c1c1c" stroke="#1c1c1c" stroke-width="0.1" >GAPDH</text>
<rect x="255.00" y="22.80" width="7.4" height="69.20" fill="#a30027"/>
<rect x="266.93" y="27.85" width="7.4" height="64.15" fill="#a30027"/>
<rect x="278.86" y="44.94" width="7.4" height="47.06" fill="#a30027"/>
<rect x="290.79" y="65.29" width="7.4" height="26.71" fill="#a30027"/>
<rect x="302.72" y="22.80" width="7.4" height="69.20" fill="#a30027"/>
<rect x="314.65" y="65.91" width="7.4" height="26.09" fill="#a30027"/>
<rect x="326.58" y="71.24" width="7.4" height="20.76" fill="#a30027"/>
<rect x="338.51" y="74.98" width="7.4" height="17.02" fill="#a30027"/>
<rect x="350.44" y="72.62" width="7.4" height="19.38" fill="#a30027"/>
<line x1="253.1" y1="19.5" x2="253.1" y2="92.5" stroke="#2a2a2a" stroke-width="1.2"/>
<line x1="252.5" y1="92.0" x2="362.9" y2="92.0" stroke="#2a2a2a" stroke-width="1.2"/>
<line x1="249.9" y1="92.00" x2="253.1" y2="92.00" stroke="#2a2a2a" stroke-width="0.9"/>
<text x="246.9" y="94.3" font-size="6.5" fill="#1c1c1c" text-anchor="end" stroke="#1c1c1c" stroke-width="0.1" >0</text>
<line x1="249.9" y1="85.08" x2="253.1" y2="85.08" stroke="#2a2a2a" stroke-width="0.9"/>
<text x="246.9" y="87.38" font-size="6.5" fill="#1c1c1c" text-anchor="end" stroke="#1c1c1c" stroke-width="0.1" >0.1</text>
<line x1="249.9" y1="78.16" x2="253.1" y2="78.16" stroke="#2a2a2a" stroke-width="0.9"/>
<text x="246.9" y="80.46" font-size="6.5" fill="#1c1c1c" text-anchor="end" stroke="#1c1c1c" stroke-width="0.1" >0.2</text>
<line x1="249.9" y1="71.24" x2="253.1" y2="71.24" stroke="#2a2a2a" stroke-width="0.9"/>
<text x="246.9" y="73.54" font-size="6.5" fill="#1c1c1c" text-anchor="end" stroke="#1c1c1c" stroke-width="0.1" >0.3</text>
<line x1="249.9" y1="64.32" x2="253.1" y2="64.32" stroke="#2a2a2a" stroke-width="0.9"/>
<text x="246.9" y="66.62" font-size="6.5" fill="#1c1c1c" text-anchor="end" stroke="#1c1c1c" stroke-width="0.1" >0.4</text>
<line x1="249.9" y1="57.40" x2="253.1" y2="57.40" stroke="#2a2a2a" stroke-width="0.9"/>
<text x="246.9" y="59.7" font-size="6.5" fill="#1c1c1c" text-anchor="end" stroke="#1c1c1c" stroke-width="0.1" >0.5</text>
<line x1="249.9" y1="50.48" x2="253.1" y2="50.48" stroke="#2a2a2a" stroke-width="0.9"/>
<text x="246.9" y="52.78" font-size="6.5" fill="#1c1c1c" text-anchor="end" stroke="#1c1c1c" stroke-width="0.1" >0.6</text>
<line x1="249.9" y1="43.56" x2="253.1" y2="43.56" stroke="#2a2a2a" stroke-width="0.9"/>
<text x="246.9" y="45.86" font-size="6.5" fill="#1c1c1c" text-anchor="end" stroke="#1c1c1c" stroke-width="0.1" >0.7</text>
<line x1="249.9" y1="36.64" x2="253.1" y2="36.64" stroke="#2a2a2a" stroke-width="0.9"/>
<text x="246.9" y="38.94" font-size="6.5" fill="#1c1c1c" text-anchor="end" stroke="#1c1c1c" stroke-width="0.1" >0.8</text>
<line x1="249.9" y1="29.72" x2="253.1" y2="29.72" stroke="#2a2a2a" stroke-width="0.9"/>
<text x="246.9" y="32.02" font-size="6.5" fill="#1c1c1c" text-anchor="end" stroke="#1c1c1c" stroke-width="0.1" >0.9</text>
<line x1="249.9" y1="22.80" x2="253.1" y2="22.80" stroke="#2a2a2a" stroke-width="0.9"/>
<text x="246.9" y="25.1" font-size="6.5" fill="#1c1c1c" text-anchor="end" stroke="#1c1c1c" stroke-width="0.1" >1</text>
<line x1="253.10" y1="92.0" x2="253.10" y2="95.3" stroke="#2a2a2a" stroke-width="1.0"/>
<line x1="264.70" y1="92.0" x2="264.70" y2="95.3" stroke="#2a2a2a" stroke-width="1.0"/>
<line x1="276.60" y1="92.0" x2="276.60" y2="95.3" stroke="#2a2a2a" stroke-width="1.0"/>
<line x1="288.50" y1="92.0" x2="288.50" y2="95.3" stroke="#2a2a2a" stroke-width="1.0"/>
<line x1="300.40" y1="92.0" x2="300.40" y2="95.3" stroke="#2a2a2a" stroke-width="1.0"/>
<line x1="312.30" y1="92.0" x2="312.30" y2="95.3" stroke="#2a2a2a" stroke-width="1.0"/>
<line x1="324.20" y1="92.0" x2="324.20" y2="95.3" stroke="#2a2a2a" stroke-width="1.0"/>
<line x1="336.10" y1="92.0" x2="336.10" y2="95.3" stroke="#2a2a2a" stroke-width="1.0"/>
<line x1="348.00" y1="92.0" x2="348.00" y2="95.3" stroke="#2a2a2a" stroke-width="1.0"/>
<line x1="359.90" y1="92.0" x2="359.90" y2="95.3" stroke="#2a2a2a" stroke-width="1.0"/>
<text x="260.4" y="100.7" font-size="6.6" fill="#1c1c1c" text-anchor="end" transform="rotate(-45 260.4 100.7)" stroke="#1c1c1c" stroke-width="0.1" >DMSO</text>
<text x="273.33" y="100.7" font-size="6.6" fill="#1c1c1c" text-anchor="end" transform="rotate(-45 273.33 100.7)" stroke="#1c1c1c" stroke-width="0.1" >0.005</text>
<text x="286.06" y="100.7" font-size="6.6" fill="#1c1c1c" text-anchor="end" transform="rotate(-45 286.06 100.7)" stroke="#1c1c1c" stroke-width="0.1" >0.05</text>
<text x="298.19" y="100.7" font-size="6.6" fill="#1c1c1c" text-anchor="end" transform="rotate(-45 298.19 100.7)" stroke="#1c1c1c" stroke-width="0.1" >0.5</text>
<text x="309.12" y="100.7" font-size="6.6" fill="#1c1c1c" text-anchor="end" transform="rotate(-45 309.12 100.7)" stroke="#1c1c1c" stroke-width="0.1" >0.005</text>
<text x="321.85" y="100.7" font-size="6.6" fill="#1c1c1c" text-anchor="end" transform="rotate(-45 321.85 100.7)" stroke="#1c1c1c" stroke-width="0.1" >0.05</text>
<text x="333.98" y="100.7" font-size="6.6" fill="#1c1c1c" text-anchor="end" transform="rotate(-45 333.98 100.7)" stroke="#1c1c1c" stroke-width="0.1" >0.5</text>
<text x="345.71" y="100.7" font-size="6.6" fill="#1c1c1c" text-anchor="end" transform="rotate(-45 345.71 100.7)" stroke="#1c1c1c" stroke-width="0.1" >0.05</text>
<text x="357.84" y="100.7" font-size="6.6" fill="#1c1c1c" text-anchor="end" transform="rotate(-45 357.84 100.7)" stroke="#1c1c1c" stroke-width="0.1" >0.5</text>
<line x1="264.30" y1="116.30" x2="296.80" y2="116.30" stroke="#333" stroke-width="0.9"/>
<line x1="302.00" y1="116.30" x2="335.00" y2="116.30" stroke="#333" stroke-width="0.9"/>
<line x1="342.00" y1="116.30" x2="360.10" y2="116.30" stroke="#333" stroke-width="0.9"/>
<text x="283.5" y="122.7" font-size="6.6" fill="#1c1c1c" text-anchor="end" transform="rotate(-45 283.5 122.7)" stroke="#1c1c1c" stroke-width="0.1" >CCT241736</text>
<text x="322.5" y="122.7" font-size="6.6" fill="#1c1c1c" text-anchor="end" transform="rotate(-45 322.5 122.7)" stroke="#1c1c1c" stroke-width="0.1" >CCT137690</text>
<text x="355.5" y="122.5" font-size="6.6" fill="#1c1c1c" text-anchor="end" transform="rotate(-45 355.5 122.5)" stroke="#1c1c1c" stroke-width="0.1" >MLN518</text>
<text x="281.3" y="135.8" font-size="6.2" fill="#1c1c1c" text-anchor="end" transform="rotate(-45 281.3 135.8)" stroke="#1c1c1c" stroke-width="0.1" >(µM)</text>
<text x="321.0" y="135.8" font-size="6.2" fill="#1c1c1c" text-anchor="end" transform="rotate(-45 321.0 135.8)" stroke="#1c1c1c" stroke-width="0.1" >(µM)</text>
<text x="356.5" y="133.7" font-size="6.2" fill="#1c1c1c" text-anchor="end" transform="rotate(-45 356.5 133.7)" stroke="#1c1c1c" stroke-width="0.1" >(µM)</text>
<text x="232.8" y="91.8" font-size="8.8" fill="#1c1c1c" font-weight="bold" textLength="72.8" lengthAdjust="spacingAndGlyphs" transform="rotate(-90 232.8 91.8)" stroke="#1c1c1c" stroke-width="0.12" word-spacing="2.0">Relative p-FLT3 / total FLT3</text>
<rect x="404.00" y="23.90" width="7.4" height="68.00" fill="#a30027"/>
<rect x="416.03" y="46.34" width="7.4" height="45.56" fill="#a30027"/>
<rect x="428.06" y="57.90" width="7.4" height="34.00" fill="#a30027"/>
<rect x="440.09" y="83.06" width="7.4" height="8.84" fill="#a30027"/>
<rect x="452.12" y="44.30" width="7.4" height="47.60" fill="#a30027"/>
<rect x="464.15" y="85.10" width="7.4" height="6.80" fill="#a30027"/>
<rect x="488.21" y="77.62" width="7.4" height="14.28" fill="#a30027"/>
<rect x="500.24" y="91.08" width="7.4" height="0.82" fill="#a30027"/>
<line x1="401.5" y1="21.0" x2="401.5" y2="92.4" stroke="#2a2a2a" stroke-width="1.05"/>
<line x1="400.9" y1="91.9" x2="512.8" y2="91.9" stroke="#2a2a2a" stroke-width="1.2"/>
<line x1="398.3" y1="91.90" x2="401.5" y2="91.90" stroke="#2a2a2a" stroke-width="0.9"/>
<text x="395.3" y="94.2" font-size="6.5" fill="#1c1c1c" text-anchor="end" stroke="#1c1c1c" stroke-width="0.1" >0</text>
<line x1="398.3" y1="85.10" x2="401.5" y2="85.10" stroke="#2a2a2a" stroke-width="0.9"/>
<text x="395.3" y="87.4" font-size="6.5" fill="#1c1c1c" text-anchor="end" stroke="#1c1c1c" stroke-width="0.1" >0.1</text>
<line x1="398.3" y1="78.30" x2="401.5" y2="78.30" stroke="#2a2a2a" stroke-width="0.9"/>
<text x="395.3" y="80.6" font-size="6.5" fill="#1c1c1c" text-anchor="end" stroke="#1c1c1c" stroke-width="0.1" >0.2</text>
<line x1="398.3" y1="71.50" x2="401.5" y2="71.50" stroke="#2a2a2a" stroke-width="0.9"/>
<text x="395.3" y="73.8" font-size="6.5" fill="#1c1c1c" text-anchor="end" stroke="#1c1c1c" stroke-width="0.1" >0.3</text>
<line x1="398.3" y1="64.70" x2="401.5" y2="64.70" stroke="#2a2a2a" stroke-width="0.9"/>
<text x="395.3" y="67.0" font-size="6.5" fill="#1c1c1c" text-anchor="end" stroke="#1c1c1c" stroke-width="0.1" >0.4</text>
<line x1="398.3" y1="57.90" x2="401.5" y2="57.90" stroke="#2a2a2a" stroke-width="0.9"/>
<text x="395.3" y="60.2" font-size="6.5" fill="#1c1c1c" text-anchor="end" stroke="#1c1c1c" stroke-width="0.1" >0.5</text>
<line x1="398.3" y1="51.10" x2="401.5" y2="51.10" stroke="#2a2a2a" stroke-width="0.9"/>
<text x="395.3" y="53.4" font-size="6.5" fill="#1c1c1c" text-anchor="end" stroke="#1c1c1c" stroke-width="0.1" >0.6</text>
<line x1="398.3" y1="44.30" x2="401.5" y2="44.30" stroke="#2a2a2a" stroke-width="0.9"/>
<text x="395.3" y="46.6" font-size="6.5" fill="#1c1c1c" text-anchor="end" stroke="#1c1c1c" stroke-width="0.1" >0.7</text>
<line x1="398.3" y1="37.50" x2="401.5" y2="37.50" stroke="#2a2a2a" stroke-width="0.9"/>
<text x="395.3" y="39.8" font-size="6.5" fill="#1c1c1c" text-anchor="end" stroke="#1c1c1c" stroke-width="0.1" >0.8</text>
<line x1="398.3" y1="30.70" x2="401.5" y2="30.70" stroke="#2a2a2a" stroke-width="0.9"/>
<text x="395.3" y="33.0" font-size="6.5" fill="#1c1c1c" text-anchor="end" stroke="#1c1c1c" stroke-width="0.1" >0.9</text>
<line x1="398.3" y1="23.90" x2="401.5" y2="23.90" stroke="#2a2a2a" stroke-width="0.9"/>
<text x="395.3" y="26.2" font-size="6.5" fill="#1c1c1c" text-anchor="end" stroke="#1c1c1c" stroke-width="0.1" >1</text>
<line x1="401.50" y1="91.9" x2="401.50" y2="95.2" stroke="#2a2a2a" stroke-width="1.0"/>
<line x1="413.23" y1="91.9" x2="413.23" y2="95.2" stroke="#2a2a2a" stroke-width="1.0"/>
<line x1="425.26" y1="91.9" x2="425.26" y2="95.2" stroke="#2a2a2a" stroke-width="1.0"/>
<line x1="437.29" y1="91.9" x2="437.29" y2="95.2" stroke="#2a2a2a" stroke-width="1.0"/>
<line x1="449.32" y1="91.9" x2="449.32" y2="95.2" stroke="#2a2a2a" stroke-width="1.0"/>
<line x1="461.35" y1="91.9" x2="461.35" y2="95.2" stroke="#2a2a2a" stroke-width="1.0"/>
<line x1="473.38" y1="91.9" x2="473.38" y2="95.2" stroke="#2a2a2a" stroke-width="1.0"/>
<line x1="485.41" y1="91.9" x2="485.41" y2="95.2" stroke="#2a2a2a" stroke-width="1.0"/>
<line x1="497.44" y1="91.9" x2="497.44" y2="95.2" stroke="#2a2a2a" stroke-width="1.0"/>
<line x1="509.47" y1="91.9" x2="509.47" y2="95.2" stroke="#2a2a2a" stroke-width="1.0"/>
<text x="409.4" y="100.6" font-size="6.6" fill="#1c1c1c" text-anchor="end" transform="rotate(-45 409.4 100.6)" stroke="#1c1c1c" stroke-width="0.1" >DMSO</text>
<text x="422.43" y="100.6" font-size="6.6" fill="#1c1c1c" text-anchor="end" transform="rotate(-45 422.43 100.6)" stroke="#1c1c1c" stroke-width="0.1" >0.005</text>
<text x="435.26" y="100.6" font-size="6.6" fill="#1c1c1c" text-anchor="end" transform="rotate(-45 435.26 100.6)" stroke="#1c1c1c" stroke-width="0.1" >0.05</text>
<text x="447.49" y="100.6" font-size="6.6" fill="#1c1c1c" text-anchor="end" transform="rotate(-45 447.49 100.6)" stroke="#1c1c1c" stroke-width="0.1" >0.5</text>
<text x="458.52" y="100.6" font-size="6.6" fill="#1c1c1c" text-anchor="end" transform="rotate(-45 458.52 100.6)" stroke="#1c1c1c" stroke-width="0.1" >0.005</text>
<text x="471.35" y="100.6" font-size="6.6" fill="#1c1c1c" text-anchor="end" transform="rotate(-45 471.35 100.6)" stroke="#1c1c1c" stroke-width="0.1" >0.05</text>
<text x="483.58" y="100.6" font-size="6.6" fill="#1c1c1c" text-anchor="end" transform="rotate(-45 483.58 100.6)" stroke="#1c1c1c" stroke-width="0.1" >0.5</text>
<text x="495.41" y="100.6" font-size="6.6" fill="#1c1c1c" text-anchor="end" transform="rotate(-45 495.41 100.6)" stroke="#1c1c1c" stroke-width="0.1" >0.05</text>
<text x="507.64" y="100.6" font-size="6.6" fill="#1c1c1c" text-anchor="end" transform="rotate(-45 507.64 100.6)" stroke="#1c1c1c" stroke-width="0.1" >0.5</text>
<line x1="412.20" y1="116.60" x2="444.70" y2="116.60" stroke="#333" stroke-width="0.9"/>
<line x1="449.90" y1="116.60" x2="482.90" y2="116.60" stroke="#333" stroke-width="0.9"/>
<line x1="489.90" y1="116.60" x2="508.00" y2="116.60" stroke="#333" stroke-width="0.9"/>
<text x="431.9" y="122.6" font-size="6.6" fill="#1c1c1c" text-anchor="end" transform="rotate(-45 431.9 122.6)" stroke="#1c1c1c" stroke-width="0.1" >CCT241736</text>
<text x="470.9" y="122.6" font-size="6.6" fill="#1c1c1c" text-anchor="end" transform="rotate(-45 470.9 122.6)" stroke="#1c1c1c" stroke-width="0.1" >CCT137690</text>
<text x="502.2" y="122.4" font-size="6.6" fill="#1c1c1c" text-anchor="end" transform="rotate(-45 502.2 122.4)" stroke="#1c1c1c" stroke-width="0.1" >MLN518</text>
<text x="429.7" y="135.7" font-size="6.2" fill="#1c1c1c" text-anchor="end" transform="rotate(-45 429.7 135.7)" stroke="#1c1c1c" stroke-width="0.1" >(µM)</text>
<text x="469.4" y="135.7" font-size="6.2" fill="#1c1c1c" text-anchor="end" transform="rotate(-45 469.4 135.7)" stroke="#1c1c1c" stroke-width="0.1" >(µM)</text>
<text x="503.7" y="132.3" font-size="6.2" fill="#1c1c1c" text-anchor="end" transform="rotate(-45 503.7 132.3)" stroke="#1c1c1c" stroke-width="0.1" >(µM)</text>
<text x="381.4" y="95.8" font-size="8.8" fill="#1c1c1c" font-weight="bold" textLength="79.2" lengthAdjust="spacingAndGlyphs" transform="rotate(-90 381.4 95.8)" stroke="#1c1c1c" stroke-width="0.12" word-spacing="2.0">Relative p-STAT5 / total STAT5</text>
<rect x="255.50" y="178.70" width="7.4" height="68.90" fill="#a30027"/>
<rect x="267.55" y="182.63" width="7.4" height="64.97" fill="#a30027"/>
<rect x="279.60" y="184.76" width="7.4" height="62.84" fill="#a30027"/>
<rect x="291.65" y="202.54" width="7.4" height="45.06" fill="#a30027"/>
<rect x="303.70" y="179.39" width="7.4" height="68.21" fill="#a30027"/>
<rect x="315.75" y="201.44" width="7.4" height="46.16" fill="#a30027"/>
<rect x="327.80" y="223.35" width="7.4" height="24.25" fill="#a30027"/>
<rect x="339.85" y="208.33" width="7.4" height="39.27" fill="#a30027"/>
<rect x="351.90" y="223.83" width="7.4" height="23.77" fill="#a30027"/>
<line x1="253.1" y1="175.6" x2="253.1" y2="248.1" stroke="#2a2a2a" stroke-width="1.2"/>
<line x1="252.5" y1="247.6" x2="364.1" y2="247.6" stroke="#2a2a2a" stroke-width="1.2"/>
<line x1="249.9" y1="247.60" x2="253.1" y2="247.60" stroke="#2a2a2a" stroke-width="0.9"/>
<text x="246.9" y="249.9" font-size="6.5" fill="#1c1c1c" text-anchor="end" stroke="#1c1c1c" stroke-width="0.1" >0</text>
<line x1="249.9" y1="240.71" x2="253.1" y2="240.71" stroke="#2a2a2a" stroke-width="0.9"/>
<text x="246.9" y="243.01" font-size="6.5" fill="#1c1c1c" text-anchor="end" stroke="#1c1c1c" stroke-width="0.1" >0.1</text>
<line x1="249.9" y1="233.82" x2="253.1" y2="233.82" stroke="#2a2a2a" stroke-width="0.9"/>
<text x="246.9" y="236.12" font-size="6.5" fill="#1c1c1c" text-anchor="end" stroke="#1c1c1c" stroke-width="0.1" >0.2</text>
<line x1="249.9" y1="226.93" x2="253.1" y2="226.93" stroke="#2a2a2a" stroke-width="0.9"/>
<text x="246.9" y="229.23" font-size="6.5" fill="#1c1c1c" text-anchor="end" stroke="#1c1c1c" stroke-width="0.1" >0.3</text>
<line x1="249.9" y1="220.04" x2="253.1" y2="220.04" stroke="#2a2a2a" stroke-width="0.9"/>
<text x="246.9" y="222.34" font-size="6.5" fill="#1c1c1c" text-anchor="end" stroke="#1c1c1c" stroke-width="0.1" >0.4</text>
<line x1="249.9" y1="213.15" x2="253.1" y2="213.15" stroke="#2a2a2a" stroke-width="0.9"/>
<text x="246.9" y="215.45" font-size="6.5" fill="#1c1c1c" text-anchor="end" stroke="#1c1c1c" stroke-width="0.1" >0.5</text>
<line x1="249.9" y1="206.26" x2="253.1" y2="206.26" stroke="#2a2a2a" stroke-width="0.9"/>
<text x="246.9" y="208.56" font-size="6.5" fill="#1c1c1c" text-anchor="end" stroke="#1c1c1c" stroke-width="0.1" >0.6</text>
<line x1="249.9" y1="199.37" x2="253.1" y2="199.37" stroke="#2a2a2a" stroke-width="0.9"/>
<text x="246.9" y="201.67" font-size="6.5" fill="#1c1c1c" text-anchor="end" stroke="#1c1c1c" stroke-width="0.1" >0.7</text>
<line x1="249.9" y1="192.48" x2="253.1" y2="192.48" stroke="#2a2a2a" stroke-width="0.9"/>
<text x="246.9" y="194.78" font-size="6.5" fill="#1c1c1c" text-anchor="end" stroke="#1c1c1c" stroke-width="0.1" >0.8</text>
<line x1="249.9" y1="185.59" x2="253.1" y2="185.59" stroke="#2a2a2a" stroke-width="0.9"/>
<text x="246.9" y="187.89" font-size="6.5" fill="#1c1c1c" text-anchor="end" stroke="#1c1c1c" stroke-width="0.1" >0.9</text>
<line x1="249.9" y1="178.70" x2="253.1" y2="178.70" stroke="#2a2a2a" stroke-width="0.9"/>
<text x="246.9" y="181.0" font-size="6.5" fill="#1c1c1c" text-anchor="end" stroke="#1c1c1c" stroke-width="0.1" >1</text>
<line x1="253.10" y1="247.6" x2="253.10" y2="250.9" stroke="#2a2a2a" stroke-width="1.0"/>
<line x1="264.87" y1="247.6" x2="264.87" y2="250.9" stroke="#2a2a2a" stroke-width="1.0"/>
<line x1="276.94" y1="247.6" x2="276.94" y2="250.9" stroke="#2a2a2a" stroke-width="1.0"/>
<line x1="289.01" y1="247.6" x2="289.01" y2="250.9" stroke="#2a2a2a" stroke-width="1.0"/>
<line x1="301.08" y1="247.6" x2="301.08" y2="250.9" stroke="#2a2a2a" stroke-width="1.0"/>
<line x1="313.15" y1="247.6" x2="313.15" y2="250.9" stroke="#2a2a2a" stroke-width="1.0"/>
<line x1="325.22" y1="247.6" x2="325.22" y2="250.9" stroke="#2a2a2a" stroke-width="1.0"/>
<line x1="337.29" y1="247.6" x2="337.29" y2="250.9" stroke="#2a2a2a" stroke-width="1.0"/>
<line x1="349.36" y1="247.6" x2="349.36" y2="250.9" stroke="#2a2a2a" stroke-width="1.0"/>
<line x1="361.43" y1="247.6" x2="361.43" y2="250.9" stroke="#2a2a2a" stroke-width="1.0"/>
<text x="260.9" y="256.3" font-size="6.6" fill="#1c1c1c" text-anchor="end" transform="rotate(-45 260.9 256.3)" stroke="#1c1c1c" stroke-width="0.1" >DMSO</text>
<text x="273.95" y="256.3" font-size="6.6" fill="#1c1c1c" text-anchor="end" transform="rotate(-45 273.95 256.3)" stroke="#1c1c1c" stroke-width="0.1" >0.005</text>
<text x="286.8" y="256.3" font-size="6.6" fill="#1c1c1c" text-anchor="end" transform="rotate(-45 286.8 256.3)" stroke="#1c1c1c" stroke-width="0.1" >0.05</text>
<text x="299.05" y="256.3" font-size="6.6" fill="#1c1c1c" text-anchor="end" transform="rotate(-45 299.05 256.3)" stroke="#1c1c1c" stroke-width="0.1" >0.5</text>
<text x="310.1" y="256.3" font-size="6.6" fill="#1c1c1c" text-anchor="end" transform="rotate(-45 310.1 256.3)" stroke="#1c1c1c" stroke-width="0.1" >0.005</text>
<text x="322.95" y="256.3" font-size="6.6" fill="#1c1c1c" text-anchor="end" transform="rotate(-45 322.95 256.3)" stroke="#1c1c1c" stroke-width="0.1" >0.05</text>
<text x="335.2" y="256.3" font-size="6.6" fill="#1c1c1c" text-anchor="end" transform="rotate(-45 335.2 256.3)" stroke="#1c1c1c" stroke-width="0.1" >0.5</text>
<text x="347.05" y="256.3" font-size="6.6" fill="#1c1c1c" text-anchor="end" transform="rotate(-45 347.05 256.3)" stroke="#1c1c1c" stroke-width="0.1" >0.05</text>
<text x="359.3" y="256.3" font-size="6.6" fill="#1c1c1c" text-anchor="end" transform="rotate(-45 359.3 256.3)" stroke="#1c1c1c" stroke-width="0.1" >0.5</text>
<line x1="264.30" y1="271.90" x2="296.80" y2="271.90" stroke="#333" stroke-width="0.9"/>
<line x1="302.00" y1="271.90" x2="335.00" y2="271.90" stroke="#333" stroke-width="0.9"/>
<line x1="342.00" y1="271.90" x2="360.10" y2="271.90" stroke="#333" stroke-width="0.9"/>
<text x="283.5" y="278.3" font-size="6.6" fill="#1c1c1c" text-anchor="end" transform="rotate(-45 283.5 278.3)" stroke="#1c1c1c" stroke-width="0.1" >CCT241736</text>
<text x="322.5" y="278.3" font-size="6.6" fill="#1c1c1c" text-anchor="end" transform="rotate(-45 322.5 278.3)" stroke="#1c1c1c" stroke-width="0.1" >CCT137690</text>
<text x="355.5" y="278.1" font-size="6.6" fill="#1c1c1c" text-anchor="end" transform="rotate(-45 355.5 278.1)" stroke="#1c1c1c" stroke-width="0.1" >MLN518</text>
<text x="281.3" y="291.4" font-size="6.2" fill="#1c1c1c" text-anchor="end" transform="rotate(-45 281.3 291.4)" stroke="#1c1c1c" stroke-width="0.1" >(µM)</text>
<text x="321.0" y="291.4" font-size="6.2" fill="#1c1c1c" text-anchor="end" transform="rotate(-45 321.0 291.4)" stroke="#1c1c1c" stroke-width="0.1" >(µM)</text>
<text x="356.5" y="289.3" font-size="6.2" fill="#1c1c1c" text-anchor="end" transform="rotate(-45 356.5 289.3)" stroke="#1c1c1c" stroke-width="0.1" >(µM)</text>
<text x="232.8" y="251.7" font-size="8.8" fill="#1c1c1c" font-weight="bold" textLength="80.7" lengthAdjust="spacingAndGlyphs" transform="rotate(-90 232.8 251.7)" stroke="#1c1c1c" stroke-width="0.12" word-spacing="2.0">Relative p-MAPK / total MAPK</text>
<rect x="406.95" y="184.90" width="5.0" height="62.50" fill="#27457c"/>
<rect x="402.65" y="184.90" width="4.65" height="62.50" fill="#a30027"/>
<rect x="418.87" y="184.90" width="5.0" height="62.50" fill="#27457c"/>
<rect x="414.57" y="192.09" width="4.65" height="55.31" fill="#a30027"/>
<rect x="430.79" y="185.21" width="5.0" height="62.19" fill="#27457c"/>
<rect x="426.49" y="193.34" width="4.65" height="54.06" fill="#a30027"/>
<rect x="442.71" y="210.53" width="5.0" height="36.88" fill="#27457c"/>
<rect x="438.41" y="209.90" width="4.65" height="37.50" fill="#a30027"/>
<rect x="454.63" y="181.15" width="5.0" height="66.25" fill="#27457c"/>
<rect x="450.33" y="183.90" width="4.65" height="63.50" fill="#a30027"/>
<rect x="466.55" y="188.90" width="5.0" height="58.50" fill="#27457c"/>
<rect x="462.25" y="182.40" width="4.65" height="65.00" fill="#a30027"/>
<rect x="478.47" y="210.21" width="5.0" height="37.19" fill="#27457c"/>
<rect x="474.17" y="191.40" width="4.65" height="56.00" fill="#a30027"/>
<rect x="490.39" y="183.90" width="5.0" height="63.50" fill="#27457c"/>
<rect x="486.09" y="190.09" width="4.65" height="57.31" fill="#a30027"/>
<rect x="502.31" y="189.71" width="5.0" height="57.69" fill="#27457c"/>
<rect x="498.01" y="193.21" width="4.65" height="54.19" fill="#a30027"/>
<line x1="401.5" y1="175.0" x2="401.5" y2="247.9" stroke="#2a2a2a" stroke-width="1.05"/>
<line x1="400.9" y1="247.4" x2="511.8" y2="247.4" stroke="#2a2a2a" stroke-width="1.2"/>
<line x1="398.3" y1="247.40" x2="401.5" y2="247.40" stroke="#2a2a2a" stroke-width="0.9"/>
<text x="395.3" y="249.7" font-size="6.5" fill="#1c1c1c" text-anchor="end" stroke="#1c1c1c" stroke-width="0.1" >0</text>
<line x1="398.3" y1="241.15" x2="401.5" y2="241.15" stroke="#2a2a2a" stroke-width="0.9"/>
<text x="395.3" y="243.45" font-size="6.5" fill="#1c1c1c" text-anchor="end" stroke="#1c1c1c" stroke-width="0.1" >0.1</text>
<line x1="398.3" y1="234.90" x2="401.5" y2="234.90" stroke="#2a2a2a" stroke-width="0.9"/>
<text x="395.3" y="237.2" font-size="6.5" fill="#1c1c1c" text-anchor="end" stroke="#1c1c1c" stroke-width="0.1" >0.2</text>
<line x1="398.3" y1="228.65" x2="401.5" y2="228.65" stroke="#2a2a2a" stroke-width="0.9"/>
<text x="395.3" y="230.95" font-size="6.5" fill="#1c1c1c" text-anchor="end" stroke="#1c1c1c" stroke-width="0.1" >0.3</text>
<line x1="398.3" y1="222.40" x2="401.5" y2="222.40" stroke="#2a2a2a" stroke-width="0.9"/>
<text x="395.3" y="224.7" font-size="6.5" fill="#1c1c1c" text-anchor="end" stroke="#1c1c1c" stroke-width="0.1" >0.4</text>
<line x1="398.3" y1="216.15" x2="401.5" y2="216.15" stroke="#2a2a2a" stroke-width="0.9"/>
<text x="395.3" y="218.45" font-size="6.5" fill="#1c1c1c" text-anchor="end" stroke="#1c1c1c" stroke-width="0.1" >0.5</text>
<line x1="398.3" y1="209.90" x2="401.5" y2="209.90" stroke="#2a2a2a" stroke-width="0.9"/>
<text x="395.3" y="212.2" font-size="6.5" fill="#1c1c1c" text-anchor="end" stroke="#1c1c1c" stroke-width="0.1" >0.6</text>
<line x1="398.3" y1="203.65" x2="401.5" y2="203.65" stroke="#2a2a2a" stroke-width="0.9"/>
<text x="395.3" y="205.95" font-size="6.5" fill="#1c1c1c" text-anchor="end" stroke="#1c1c1c" stroke-width="0.1" >0.7</text>
<line x1="398.3" y1="197.40" x2="401.5" y2="197.40" stroke="#2a2a2a" stroke-width="0.9"/>
<text x="395.3" y="199.7" font-size="6.5" fill="#1c1c1c" text-anchor="end" stroke="#1c1c1c" stroke-width="0.1" >0.8</text>
<line x1="398.3" y1="191.15" x2="401.5" y2="191.15" stroke="#2a2a2a" stroke-width="0.9"/>
<text x="395.3" y="193.45" font-size="6.5" fill="#1c1c1c" text-anchor="end" stroke="#1c1c1c" stroke-width="0.1" >0.9</text>
<line x1="398.3" y1="184.90" x2="401.5" y2="184.90" stroke="#2a2a2a" stroke-width="0.9"/>
<text x="395.3" y="187.2" font-size="6.5" fill="#1c1c1c" text-anchor="end" stroke="#1c1c1c" stroke-width="0.1" >1</text>
<line x1="398.3" y1="178.65" x2="401.5" y2="178.65" stroke="#2a2a2a" stroke-width="0.9"/>
<text x="395.3" y="180.95" font-size="6.5" fill="#1c1c1c" text-anchor="end" stroke="#1c1c1c" stroke-width="0.1" >1.1</text>
<line x1="401.50" y1="247.4" x2="401.50" y2="250.70000000000002" stroke="#2a2a2a" stroke-width="1.0"/>
<line x1="413.13" y1="247.4" x2="413.13" y2="250.70000000000002" stroke="#2a2a2a" stroke-width="1.0"/>
<line x1="425.06" y1="247.4" x2="425.06" y2="250.70000000000002" stroke="#2a2a2a" stroke-width="1.0"/>
<line x1="436.99" y1="247.4" x2="436.99" y2="250.70000000000002" stroke="#2a2a2a" stroke-width="1.0"/>
<line x1="448.92" y1="247.4" x2="448.92" y2="250.70000000000002" stroke="#2a2a2a" stroke-width="1.0"/>
<line x1="460.85" y1="247.4" x2="460.85" y2="250.70000000000002" stroke="#2a2a2a" stroke-width="1.0"/>
<line x1="472.78" y1="247.4" x2="472.78" y2="250.70000000000002" stroke="#2a2a2a" stroke-width="1.0"/>
<line x1="484.71" y1="247.4" x2="484.71" y2="250.70000000000002" stroke="#2a2a2a" stroke-width="1.0"/>
<line x1="496.64" y1="247.4" x2="496.64" y2="250.70000000000002" stroke="#2a2a2a" stroke-width="1.0"/>
<line x1="508.57" y1="247.4" x2="508.57" y2="250.70000000000002" stroke="#2a2a2a" stroke-width="1.0"/>
<text x="409.0" y="256.1" font-size="6.6" fill="#1c1c1c" text-anchor="end" transform="rotate(-45 409.0 256.1)" stroke="#1c1c1c" stroke-width="0.1" >DMSO</text>
<text x="421.92" y="256.1" font-size="6.6" fill="#1c1c1c" text-anchor="end" transform="rotate(-45 421.92 256.1)" stroke="#1c1c1c" stroke-width="0.1" >0.005</text>
<text x="434.64" y="256.1" font-size="6.6" fill="#1c1c1c" text-anchor="end" transform="rotate(-45 434.64 256.1)" stroke="#1c1c1c" stroke-width="0.1" >0.05</text>
<text x="446.76" y="256.1" font-size="6.6" fill="#1c1c1c" text-anchor="end" transform="rotate(-45 446.76 256.1)" stroke="#1c1c1c" stroke-width="0.1" >0.5</text>
<text x="457.68" y="256.1" font-size="6.6" fill="#1c1c1c" text-anchor="end" transform="rotate(-45 457.68 256.1)" stroke="#1c1c1c" stroke-width="0.1" >0.005</text>
<text x="470.4" y="256.1" font-size="6.6" fill="#1c1c1c" text-anchor="end" transform="rotate(-45 470.4 256.1)" stroke="#1c1c1c" stroke-width="0.1" >0.05</text>
<text x="482.52" y="256.1" font-size="6.6" fill="#1c1c1c" text-anchor="end" transform="rotate(-45 482.52 256.1)" stroke="#1c1c1c" stroke-width="0.1" >0.5</text>
<text x="494.24" y="256.1" font-size="6.6" fill="#1c1c1c" text-anchor="end" transform="rotate(-45 494.24 256.1)" stroke="#1c1c1c" stroke-width="0.1" >0.05</text>
<text x="506.36" y="256.1" font-size="6.6" fill="#1c1c1c" text-anchor="end" transform="rotate(-45 506.36 256.1)" stroke="#1c1c1c" stroke-width="0.1" >0.5</text>
<line x1="412.20" y1="272.10" x2="444.70" y2="272.10" stroke="#333" stroke-width="0.9"/>
<line x1="449.90" y1="272.10" x2="482.90" y2="272.10" stroke="#333" stroke-width="0.9"/>
<line x1="489.90" y1="272.10" x2="508.00" y2="272.10" stroke="#333" stroke-width="0.9"/>
<text x="431.9" y="278.1" font-size="6.6" fill="#1c1c1c" text-anchor="end" transform="rotate(-45 431.9 278.1)" stroke="#1c1c1c" stroke-width="0.1" >CCT241736</text>
<text x="470.9" y="278.1" font-size="6.6" fill="#1c1c1c" text-anchor="end" transform="rotate(-45 470.9 278.1)" stroke="#1c1c1c" stroke-width="0.1" >CCT137690</text>
<text x="503.0" y="277.6" font-size="6.6" fill="#1c1c1c" text-anchor="end" transform="rotate(-45 503.0 277.6)" stroke="#1c1c1c" stroke-width="0.1" >MLN518</text>
<text x="429.7" y="291.2" font-size="6.2" fill="#1c1c1c" text-anchor="end" transform="rotate(-45 429.7 291.2)" stroke="#1c1c1c" stroke-width="0.1" >(µM)</text>
<text x="469.4" y="291.2" font-size="6.2" fill="#1c1c1c" text-anchor="end" transform="rotate(-45 469.4 291.2)" stroke="#1c1c1c" stroke-width="0.1" >(µM)</text>
<text x="504.3" y="287.4" font-size="6.2" fill="#1c1c1c" text-anchor="end" transform="rotate(-45 504.3 287.4)" stroke="#1c1c1c" stroke-width="0.1" >(µM)</text>
<text x="381.4" y="251.9" font-size="8.8" fill="#1c1c1c" font-weight="bold" textLength="81.0" lengthAdjust="spacingAndGlyphs" transform="rotate(-90 381.4 251.9)" stroke="#1c1c1c" stroke-width="0.12" word-spacing="2.0">Relative p-aurora / total aurora</text>
<rect x="418.1" y="160.7" width="2.6" height="2.6" fill="#a30027"/>
<rect x="418.1" y="171.0" width="2.6" height="2.6" fill="#27457c"/>
<text x="423.9" y="164.5" font-size="6.5" fill="#1c1c1c" textLength="61.0" lengthAdjust="spacingAndGlyphs" stroke="#1c1c1c" stroke-width="0.1" >p-Aurora A/T-Aurora A</text>
<text x="423.9" y="174.6" font-size="6.5" fill="#1c1c1c" textLength="61.2" lengthAdjust="spacingAndGlyphs" stroke="#1c1c1c" stroke-width="0.1" >p-Aurora B/T-Aurora B</text>
<rect x="0" y="308.6" width="520" height="1.4" fill="#7a7a7a"/>
<path d="M0.5 309 V0.5 H519.3 V308" fill="none" stroke="#000" stroke-width="1.2"/>
<line x1="0" y1="308.1" x2="520" y2="308.1" stroke="#000" stroke-width="1.1"/>
</svg></body></html>
